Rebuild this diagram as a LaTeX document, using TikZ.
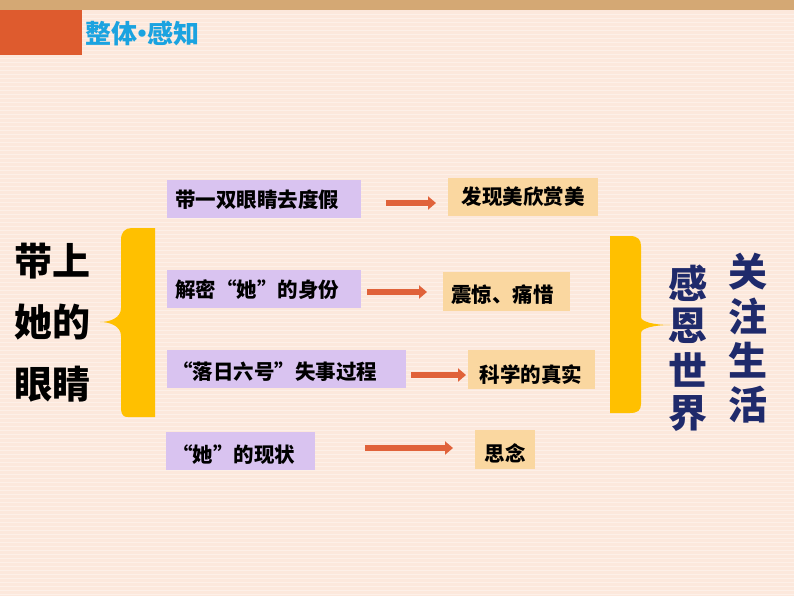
\documentclass[tikz,border=0pt]{standalone}
\usepackage{fontspec}
\setmainfont{Noto Sans CJK SC}
\begin{document}
\begin{tikzpicture}[x=1pt,y=-1pt,
  pbox/.style={fill=boxp,inner sep=0pt,anchor=north west},
  obox/.style={fill=boxo,inner sep=0pt,anchor=north west},
  txt/.style={font=\fontsize{20.5}{20}\selectfont\bfseries,text=black,inner sep=0pt},
  arr/.style={draw=arrc,line width=5.5pt,-{Triangle[length=8pt,width=13pt]}},
  big/.style={font=\fontsize{38}{38}\selectfont\bfseries,inner sep=0pt},
  bigr/.style={font=\fontsize{39}{39}\selectfont\bfseries,inner sep=0pt,text=navy}]
\usetikzlibrary{arrows.meta}
\definecolor{bg}{HTML}{FCE8DC}
\definecolor{tan}{HTML}{D4A874}
\definecolor{ored}{HTML}{DE5B2E}
\definecolor{ttl}{HTML}{1BA3E0}
\definecolor{boxp}{HTML}{D9C3F0}
\definecolor{boxo}{HTML}{FAD7A0}
\definecolor{arrc}{HTML}{E0623A}
\definecolor{yel}{HTML}{FFC000}
\definecolor{navy}{HTML}{1F2A6B}
\fill[bg] (0,0) rectangle (794,596);
\useasboundingbox (0,0) rectangle (794,596);
\foreach \y in {14,18,...,596} \draw[white!35!bg,line width=0.3pt] (0,\y) -- (794,\y);
\fill[tan] (0,0) rectangle (794,10);
\fill[ored] (0,10) rectangle (82,55);
\node[anchor=west,text=ttl,font=\fontsize{26}{26}\selectfont\bfseries,inner sep=0pt] (title) at (85,34) {整体\kern-0.3em•\kern-0.3em感知};
% left boxes
\node[pbox,minimum width=194pt,minimum height=38pt] (p1) at (167,180) {};
\node[txt,anchor=west] at (175,200) {带一双眼睛去度假};
\node[pbox,minimum width=194pt,minimum height=38pt] (p2) at (167,270) {};
\node[txt,anchor=west] at (175,290) {解密“她”的身份};
\node[pbox,minimum width=239pt,minimum height=38pt] (p3) at (167,350) {};
\node[txt,anchor=west] at (172,372) {“落日六号”失事过程};
\node[pbox,minimum width=149pt,minimum height=38pt] (p4) at (166,432) {};
\node[txt,anchor=west] at (172,455) {“她”的现状};
% right boxes
\node[obox,minimum width=150pt,minimum height=38pt] (o1) at (448,178) {};
\node[txt] at (523,197) {发现美欣赏美};
\node[obox,minimum width=127pt,minimum height=39pt] (o2) at (443,272) {};
\node[txt,anchor=west] at (451,295) {震惊、痛惜};
\node[obox,minimum width=127pt,minimum height=39pt] (o3) at (468,350) {};
\node[txt] at (531,375) {科学的真实};
\node[obox,minimum width=60pt,minimum height=39pt] (o4) at (475,430) {};
\node[txt] at (505,453) {思念};
% arrows
\coordinate (a1s) at (386,203); \coordinate (a1e) at (436,203);
\coordinate (a2s) at (367,292); \coordinate (a2e) at (427,292);
\coordinate (a3s) at (411,375); \coordinate (a3e) at (466,375);
\coordinate (a4s) at (365,448); \coordinate (a4e) at (453,448);
\draw[arr] (a1s) -- (a1e);
\draw[arr] (a2s) -- (a2e);
\draw[arr] (a3s) -- (a3e);
\draw[arr] (a4s) -- (a4e);
% brackets
\fill[yel] (155,228) -- (155,417) -- (128,417) .. controls (121,417) and (121,412) .. (121,405) -- (121,336) .. controls (121,326) and (110,322) .. (100,322) .. controls (110,322) and (121,318) .. (121,308) -- (121,240) .. controls (121,232) and (125,228) .. (132,228) -- cycle;
\fill[yel] (610,236) -- (610,413) -- (630,413) .. controls (638,413) and (641,410) .. (641,404) -- (641,333) .. controls (641,328) and (655,325) .. (670,325) .. controls (655,325) and (641,322) .. (641,317) -- (641,246) .. controls (641,240) and (638,236) .. (630,236) -- cycle;
% left big text
\node[big] (l1) at (52,261) {带上};
\node[big] (l2) at (52,322) {她的};
\node[big] (l3) at (52,384) {眼睛};
% right columns
\node[bigr] (r1) at (688,283) {感};
\node[bigr] (r2) at (688,326) {恩};
\node[bigr] (r3) at (688,370) {世};
\node[bigr] (r4) at (688,413) {界};
\node[bigr] (s1) at (748,272) {关};
\node[bigr] (s2) at (748,316) {注};
\node[bigr] (s3) at (748,360) {生};
\node[bigr] (s4) at (748,405) {活};
\end{tikzpicture}
\end{document}
